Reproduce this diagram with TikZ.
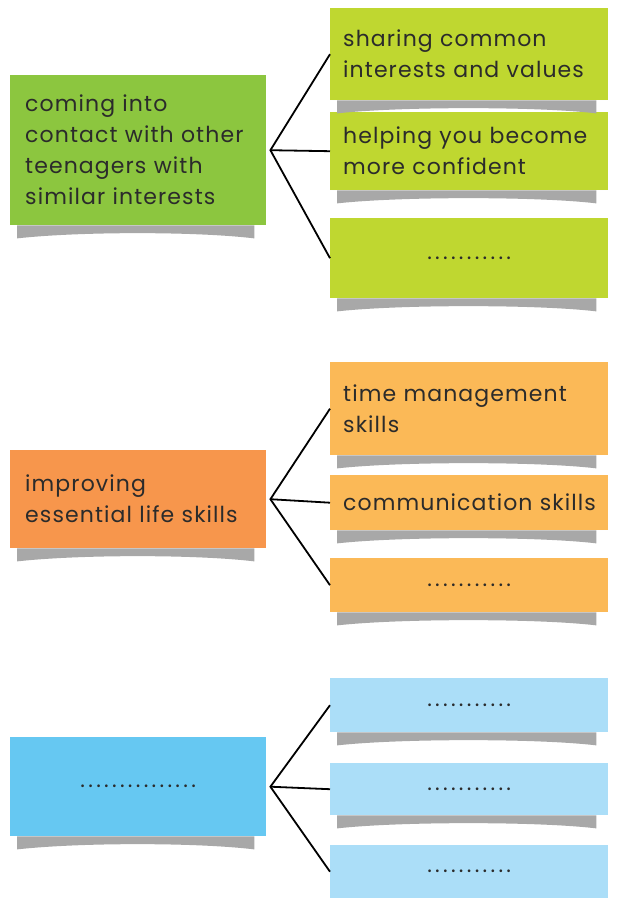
\documentclass[tikz,border=0pt]{standalone}
\usepackage{fontspec}
\setmainfont{Poppins}[LetterSpace=5]
\usepackage{xcolor}
\usetikzlibrary{positioning}

\definecolor{leafgreen}{HTML}{8CC63F}
\definecolor{limegreen}{HTML}{BFD730}
\definecolor{deeporange}{HTML}{F7964C}
\definecolor{paleorange}{HTML}{FBB957}
\definecolor{skyblue}{HTML}{66C8F2}
\definecolor{paleblue}{HTML}{ABDEF8}
\definecolor{shadowgray}{HTML}{A8A8A8}
\definecolor{inkgray}{HTML}{2B2B2B}

% grey curled shadow under a box
\newcommand{\curlshadow}[1]{%
  \fill[shadowgray] ([xshift=7pt]#1.south west) -- ([xshift=-12pt]#1.south east)
    -- ([xshift=-12pt,yshift=-13pt]#1.south east)
    .. controls ([xshift=-70pt,yshift=-6pt]#1.south east) and ([xshift=70pt,yshift=-6pt]#1.south west)
    .. ([xshift=7pt,yshift=-13pt]#1.south west) -- cycle;}

\begin{document}
\begin{tikzpicture}[x=1pt, y=-1pt,
  topic/.style={rectangle, anchor=north west, inner xsep=15pt, inner ysep=0pt,
    text width=226pt, align=left, text=inkgray, font=\fontsize{22}{31}\selectfont},
  idea/.style={rectangle, anchor=north west, inner xsep=13pt, inner ysep=0pt,
    text width=252pt, align=left, text=inkgray, font=\fontsize{22}{31}\selectfont},
  blank/.style={align=center, font=\fontsize{22}{31}\selectfont\addfontfeature{LetterSpace=15}},
  branch/.style={line width=1.8pt, black}]
  \useasboundingbox (0, 0) rectangle (618, 905);

  % Group 1 (green)
  \node[idea, fill=limegreen, minimum height=92pt] (share) at (330, 8)
    {sharing common\\interests and values};
  \node[idea, fill=limegreen, minimum height=78pt] (confident) at (330, 112)
    {helping you become\\more confident};
  \node[idea, blank, fill=limegreen, minimum height=80pt] (greenmore) at (330, 218)
    {...........};
  \node[topic, fill=leafgreen, minimum height=150pt] (contact) at (10, 75)
    {coming into\\contact with other\\teenagers with\\similar interests};
  \coordinate (hubgreen) at ([xshift=4pt]contact.east);
  \draw[branch] (share.west) -- (hubgreen) -- (greenmore.west);
  \draw[branch] (hubgreen) -- (confident.west);
  \curlshadow{share}
  \curlshadow{confident}
  \curlshadow{greenmore}
  \curlshadow{contact}

  % Group 2 (orange)
  \node[idea, fill=paleorange, minimum height=93pt] (timeskill) at (330, 362)
    {time management\\skills};
  \node[idea, fill=paleorange, minimum height=55pt] (commskill) at (330, 475)
    {\mbox{communication skills}};
  \node[idea, blank, fill=paleorange, minimum height=54pt] (orangemore) at (330, 558)
    {...........};
  \node[topic, fill=deeporange, minimum height=98pt] (lifeskill) at (10, 450)
    {improving\\essential life skills};
  \coordinate (huborange) at ([xshift=4pt]lifeskill.east);
  \draw[branch] (timeskill.west) -- (huborange) -- (orangemore.west);
  \draw[branch] (huborange) -- (commskill.west);
  \curlshadow{timeskill}
  \curlshadow{commskill}
  \curlshadow{orangemore}
  \curlshadow{lifeskill}

  % Group 3 (blue)
  \node[idea, blank, fill=paleblue, minimum height=54pt] (blueone) at (330, 678)
    {...........};
  \node[idea, blank, fill=paleblue, minimum height=52pt] (bluetwo) at (330, 763)
    {...........};
  \node[idea, blank, fill=paleblue, minimum height=53pt] (bluethree) at (330, 845)
    {...........};
  \node[topic, blank, fill=skyblue, minimum height=99pt] (bluetopic) at (10, 737)
    {...............};
  \coordinate (hubblue) at ([xshift=4pt]bluetopic.east);
  \draw[branch] (blueone.west) -- (hubblue) -- (bluethree.west);
  \draw[branch] (hubblue) -- (bluetwo.west);
  \curlshadow{blueone}
  \curlshadow{bluetwo}
  \curlshadow{bluetopic}
\end{tikzpicture}
\end{document}
